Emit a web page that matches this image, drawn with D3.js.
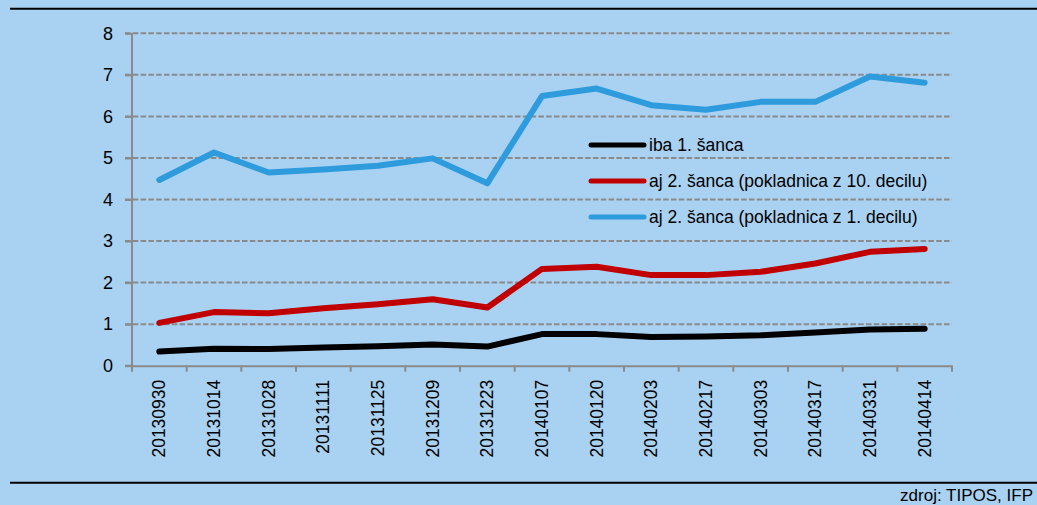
<!DOCTYPE html>
<html><head><meta charset="utf-8">
<script src="https://cdn.jsdelivr.net/npm/d3@7"></script>
<style>html,body{margin:0;padding:0;background:#a9d1f1;}svg{display:block;}</style>
</head><body>
<svg id="c" width="1037" height="505"></svg>
<script>
const categories = ["20130930","20131014","20131028","20131111","20131125","20131209","20131223","20140107","20140120","20140203","20140217","20140303","20140317","20140331","20140414"];
const seriesNames = ["iba 1. šanca","aj 2. šanca (pokladnica z 10. decilu)","aj 2. šanca (pokladnica z 1. decilu)"];
const ibaPrva = [0.34,0.41,0.40,0.44,0.47,0.51,0.46,0.76,0.76,0.69,0.70,0.73,0.80,0.87,0.89];
const decil10 = [1.03,1.29,1.26,1.38,1.48,1.60,1.40,2.33,2.38,2.18,2.18,2.26,2.46,2.74,2.81];
const decil1  = [4.47,5.13,4.65,4.72,4.81,4.99,4.39,6.49,6.67,6.27,6.16,6.35,6.35,6.96,6.81];
const yTicks = [0,1,2,3,4,5,6,7,8];
const sourceText = "zdroj: TIPOS, IFP";

const svg = d3.select("#c");
const L = 132, R = 952, T = 33.3, B = 365.7;
const x = d3.scaleBand().domain(categories).range([L, R]);
const y = d3.scaleLinear().domain([0, 8]).range([B, T]);
const font = "'Liberation Sans', Arial, sans-serif";

svg.append("rect").attr("width",1037).attr("height",505).attr("fill","#a9d1f1");
// frame lines
svg.append("line").attr("x1",10).attr("x2",1037).attr("y1",8.7).attr("y2",8.7).attr("stroke","#000").attr("stroke-width",2);
svg.append("line").attr("x1",10).attr("x2",1037).attr("y1",482.7).attr("y2",482.7).attr("stroke","#000").attr("stroke-width",2);

// grid
svg.append("g").selectAll("line").data(yTicks.filter(d=>d>0)).join("line")
  .attr("x1", L-7).attr("x2", R).attr("y1", d=>y(d)).attr("y2", d=>y(d))
  .attr("stroke","#8a8a8a").attr("stroke-width",2).attr("stroke-dasharray","5.5,2.3");

// y axis
const ya = svg.append("g").attr("transform",`translate(${L},0)`)
  .call(d3.axisLeft(y).tickValues(yTicks).tickSize(7).tickPadding(12).tickFormat(d3.format("d")));
ya.select(".domain").attr("stroke","#8a8a8a").attr("stroke-width",2).attr("d",`M-7,${B}H0V${T}`);
ya.selectAll(".tick line").attr("stroke","#8a8a8a").attr("stroke-width",2);
ya.selectAll("text").attr("font-family",font).attr("font-size",18).attr("fill","#000");

// x axis
const xa = svg.append("g").attr("transform",`translate(0,${B})`)
  .call(d3.axisBottom(x).tickSize(0).tickPadding(0));
xa.select(".domain").attr("stroke","#8a8a8a").attr("stroke-width",2);
xa.selectAll(".tick text").attr("font-family",font).attr("font-size",17.5).attr("fill","#000")
  .attr("transform","rotate(-90)").attr("text-anchor","end").attr("x",-14).attr("y",0).attr("dy","0.35em");
const bounds = categories.map(c=>x(c)).concat([R]);
xa.append("g").selectAll("line").data(bounds).join("line")
  .attr("x1",d=>d).attr("x2",d=>d).attr("y1",0).attr("y2",6).attr("stroke","#8a8a8a").attr("stroke-width",2);

// lines
const colors = ["#000000","#c00000","#2e9bdd"];
const data = [ibaPrva, decil10, decil1];
const line = d3.line().x((d,i)=>x(categories[i])+x.bandwidth()/2).y(d=>y(d));
svg.append("g").selectAll("path").data(data).join("path")
  .attr("d", line).attr("fill","none").attr("stroke",(d,i)=>colors[i])
  .attr("stroke-width",6).attr("stroke-linecap","round").attr("stroke-linejoin","round");

// legend
const lg = svg.append("g");
const ly = [145, 181, 217];
seriesNames.forEach((n,i)=>{
  lg.append("line").attr("x1",591).attr("x2",644).attr("y1",ly[i]).attr("y2",ly[i])
    .attr("stroke",colors[i]).attr("stroke-width",5).attr("stroke-linecap","round");
  lg.append("text").attr("x",649).attr("y",ly[i]).attr("dy","0.35em").attr("font-family",font)
    .attr("font-size",17.5).attr("fill","#000").text(n);
});

svg.append("text").attr("x",1033).attr("y",501).attr("text-anchor","end").attr("font-family",font)
  .attr("font-size",17).attr("fill","#000").text(sourceText);
</script>
</body></html>
